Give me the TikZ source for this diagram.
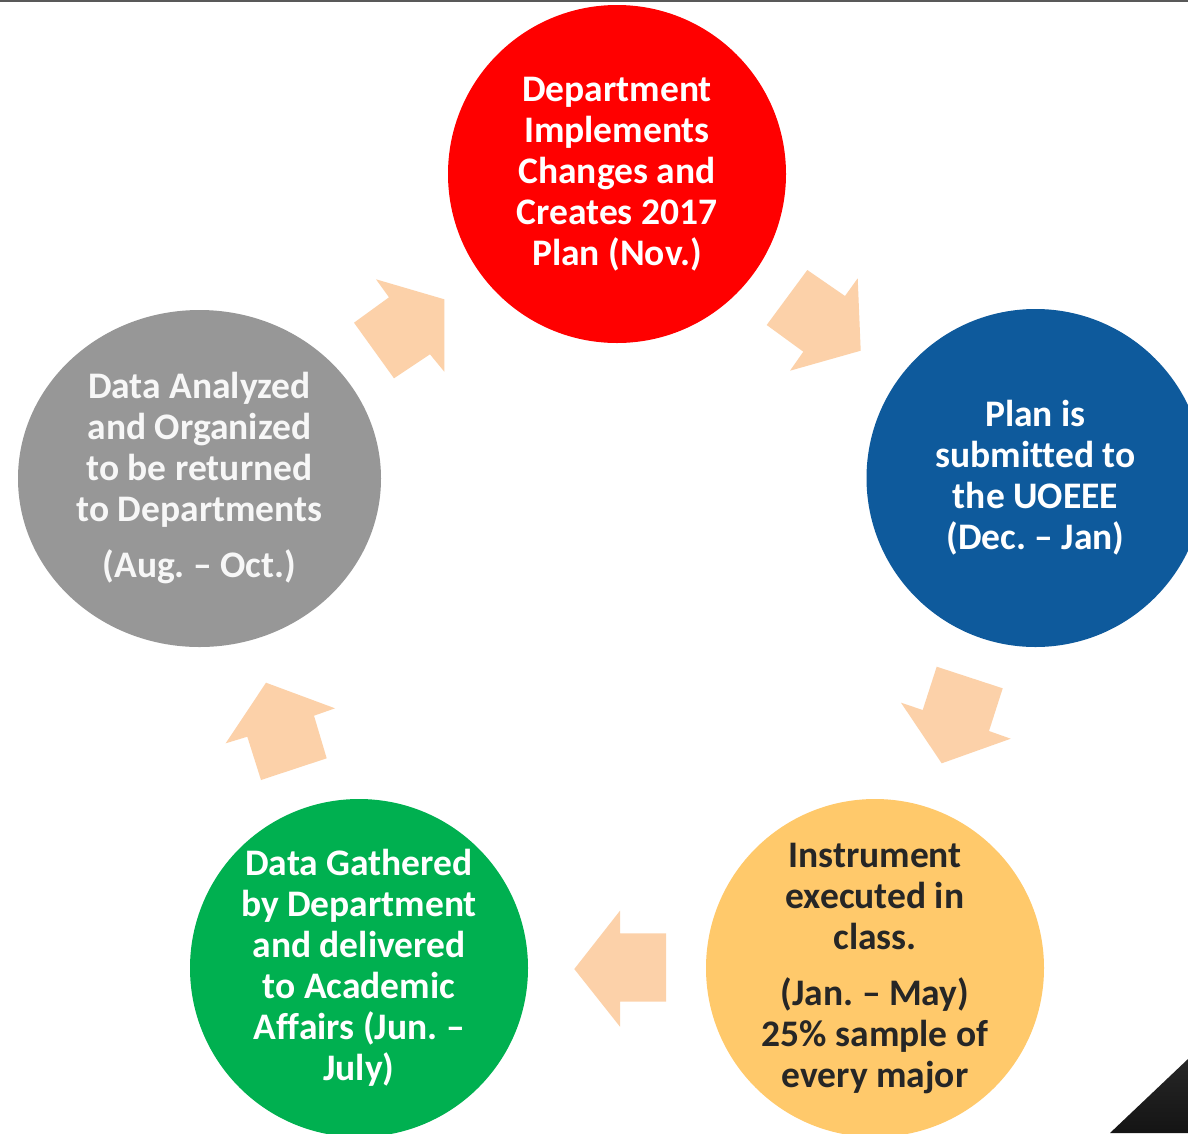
\documentclass[tikz,border=0pt]{standalone}
\usepackage{fontspec}
\setmainfont{Carlito}[Ligatures=NoCommon]
\usetikzlibrary{shapes.geometric}
\frenchspacing
\definecolor{cRed}{HTML}{FF0000}
\definecolor{cBlue}{HTML}{0E5A9C}
\definecolor{cYellow}{HTML}{FFC96B}
\definecolor{cGreen}{HTML}{00B050}
\definecolor{cGray}{HTML}{979797}
\definecolor{cPeach}{HTML}{FCD1A9}
\definecolor{cDark}{HTML}{262626}
\tikzset{
  stage/.style={circle, minimum size=338pt, inner sep=0pt, align=center,
    font=\bfseries\fontsize{37.5}{41}\selectfont, text=white},
  blockarrow/.style={fill=cPeach, draw=none},
}
\begin{document}
\begin{tikzpicture}[x=1pt,y=-1pt]
\useasboundingbox (0,0) rectangle (1188,1133);
\clip (0,0) rectangle (1188,1133);
\fill[white] (0,0) rectangle (1188,1133);
\fill[black!65] (0,0) rectangle (1188,2);

\node[stage, fill=cRed] (red) at (617,174)
  {Department\\Implements\\Changes and\\Creates 2017\\Plan (Nov.)};
\node[stage, fill=cBlue] (blue) at (1035.5,478)
  {Plan is\\submitted to\\the UOEEE\\(Dec. – Jan)};
\node[stage, fill=cYellow, text=cDark] (yellow) at (875,968)
  {Instrument\\executed in\\class.\\[15pt](Jan. – May)\\25\% sample of\\every major};
\node[stage, fill=cGreen] (green) at (359,968)
  {Data Gathered\\by Department\\and delivered\\to Academic\\Affairs (Jun. –\\July)};
\node[ellipse, minimum width=363pt, minimum height=337pt, inner sep=0pt, align=center,
  font=\bfseries\fontsize{37.5}{41}\selectfont, text=white!97!black, fill=cGray] (gray) at (199.5,478.5)
  {Data Analyzed\\and Organized\\to be returned\\to Departments\\[15pt](Aug. – Oct.)};

% block arrows
\fill[blockarrow] (807.3,270) -- (845,296) -- (857.7,278.3) -- (860.7,350.7)
  -- (790,370.7) -- (803.3,351.7) -- (766.7,325) -- cycle;
\fill[blockarrow] (936.7,666.7) -- (1002.7,688.3) -- (989,731) -- (1010.7,738.7)
  -- (941.7,763.3) -- (901,702.7) -- (922.7,710) -- cycle;
\fill[blockarrow] (666,933.3) -- (620,933.3) -- (620,910.7) -- (574.3,969)
  -- (620,1026.7) -- (620,1001.7) -- (666,1001.7) -- cycle;
\fill[blockarrow] (266,682.7) -- (335,708.3) -- (314,715.7) -- (326.7,758.3)
  -- (261,780) -- (247.3,736.7) -- (225.7,743.3) -- cycle;
\fill[blockarrow] (376,279.3) -- (444.3,299.3) -- (444.3,371.7) -- (430,354.3)
  -- (394,378.3) -- (354,322.7) -- (389,297.3) -- cycle;

% corner triangle
\shade[top color=black!85, bottom color=black!92] (1110,1133) -- (1188,1059) -- (1188,1133) -- cycle;
\end{tikzpicture}
\end{document}
